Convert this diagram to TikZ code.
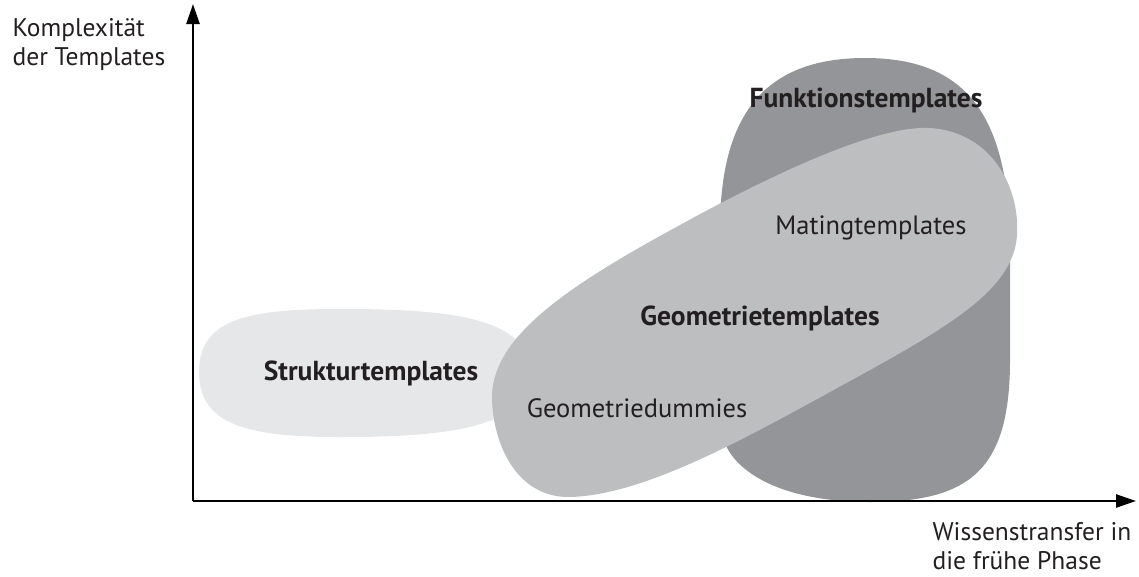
\documentclass[tikz,border=0pt]{standalone}
\usepackage{fontspec}
\setmainfont{PT Sans}
\usetikzlibrary{arrows.meta}

\definecolor{hellgrau}{HTML}{E6E7E8}
\definecolor{mittelgrau}{HTML}{BCBEC0}
\definecolor{dunkelgrau}{HTML}{939598}
\definecolor{schrift}{HTML}{231F20}

\begin{document}
\begin{tikzpicture}[x=1pt,y=-1pt,>={Triangle[length=20pt,width=13pt]},line width=2.5pt]

            \tikzstyle{every node}=[text=schrift,font=\fontsize{26.5}{32}\selectfont]
            \tikzstyle{tmplbold}=[font=\fontsize{27.5}{32}\selectfont\bfseries]
            \tikzstyle{axistext}=[align=left,anchor=west,font=\fontsize{25.5}{29}\selectfont]

            \useasboundingbox (0,0) rectangle (1139,576);

            \fill[hellgrau] (199,372) .. controls (199,318) and (250,309) .. (340,309) .. controls (440,309) and (530,315) .. (530,372) .. controls (530,430) and (440,437) .. (340,437) .. controls (250,437) and (199,426) .. (199,372) -- cycle;
            \fill[dunkelgrau] (720,420) -- (720,230) .. controls (720,120) and (760,58) .. (865,58) .. controls (970,58) and (1005,120) .. (1010,230) -- (1010,360) .. controls (1010,470) and (970,502) .. (870,502) .. controls (780,502) and (720,470) .. (720,420) -- cycle;
            \fill[mittelgrau] (492,400) .. controls (490,340) and (560,290) .. (680,225) .. controls (780,170) and (880,125) .. (930,128) .. controls (990,132) and (1020,185) .. (1017,235) .. controls (1014,285) and (960,320) .. (870,370) .. controls (760,430) and (650,495) .. (570,497) .. controls (520,498) and (494,450) .. (492,400) -- cycle;

            \node[tmplbold] (struktur)   at (371,373) {Strukturtemplates};
            \node[tmplbold] (funktion)   at (866,100) {Funktionstemplates};
            \node           (mating)     at (871,228) {Matingtemplates};
            \node[tmplbold] (geometrie)  at (760,318) {Geometrietemplates};
            \node           (dummies)    at (637,408) {Geometriedummies};

            \coordinate (origin) at (193,501);
            \coordinate (ytip)   at (193,4);
            \coordinate (xtip)   at (1136,501);
            \draw[->] (origin) -- (ytip);
            \draw[->] (origin) -- (xtip);

            \node[axistext] (komplex) at (8,45)   {Komplexität\\der Templates};
            \node[axistext] (wissen)  at (928,546) {Wissenstransfer in\\die frühe Phase};
        \end{tikzpicture}
\end{document}
